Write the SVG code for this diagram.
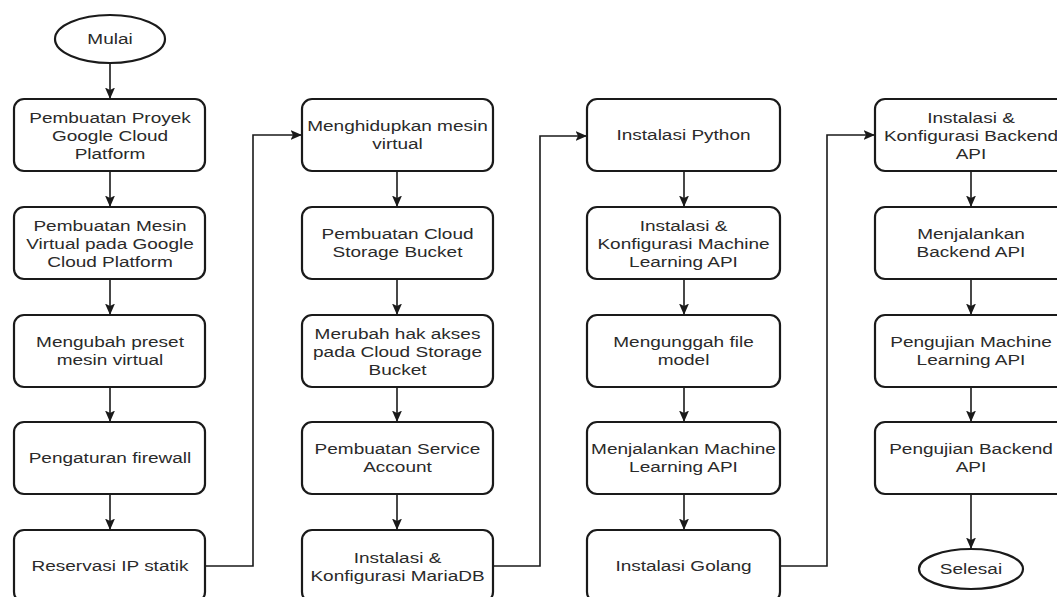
<svg xmlns="http://www.w3.org/2000/svg" width="1057" height="597" viewBox="0 0 1057 597">
<defs>
<marker id="ah" markerUnits="userSpaceOnUse" markerWidth="12" markerHeight="11" viewBox="0 0 12 11" refX="11.5" refY="5.5" orient="auto">
<path d="M0,0.5 L11.5,5.5 L0,10.5 L2.5,5.5 z" fill="#1a1a1a"/>
</marker>
</defs>
<style>
.box{fill:#fff;stroke:#1a1a1a;stroke-width:2.2}
.term{fill:#fff;stroke:#1a1a1a;stroke-width:2.2}
.t{font-family:"Liberation Sans",Arial,sans-serif;font-size:15px;fill:#2a2a2a;text-anchor:middle}
.c{fill:none;stroke:#1a1a1a;stroke-width:1.6;marker-end:url(#ah)}
</style>
<rect width="1057" height="597" fill="#fff"/>

<g id="connectors">
<path class="c" d="M110,63 V99"/>
<path class="c" d="M110,171 V207"/>
<path class="c" d="M110,279 V315"/>
<path class="c" d="M110,387 V422"/>
<path class="c" d="M110,494 V530"/>
<path class="c" d="M205,566 H253 V135 H302"/>
<path class="c" d="M397,171 V207"/>
<path class="c" d="M397,279 V315"/>
<path class="c" d="M397,387 V422"/>
<path class="c" d="M397,494 V530"/>
<path class="c" d="M493,566 H540 V136 H587"/>
<path class="c" d="M684,171 V207"/>
<path class="c" d="M684,279 V315"/>
<path class="c" d="M684,387 V422"/>
<path class="c" d="M684,494 V530"/>
<path class="c" d="M780,566 H827 V135 H875"/>
<path class="c" d="M971,171 V207"/>
<path class="c" d="M971,279 V315"/>
<path class="c" d="M971,387 V422"/>
<path class="c" d="M971,494 V549"/>
</g>

<g id="mulai">
<ellipse class="term" cx="110" cy="39" rx="55" ry="24"/>
<g transform="matrix(1.267 0 0 1 110 0)"><text class="t" x="0" y="44">Mulai</text></g>
</g>

<g id="n1">
<rect class="box" x="14" y="99" width="191" height="72" rx="10"/>
<g transform="matrix(1.267 0 0 1 110 0)"><text class="t" x="0" y="123">Pembuatan Proyek</text><text class="t" x="0" y="141">Google Cloud</text><text class="t" x="0" y="159">Platform</text></g>
</g>
<g id="n2">
<rect class="box" x="14" y="207" width="191" height="72" rx="10"/>
<g transform="matrix(1.267 0 0 1 110 0)"><text class="t" x="0" y="231">Pembuatan Mesin</text><text class="t" x="0" y="249">Virtual pada Google</text><text class="t" x="0" y="267">Cloud Platform</text></g>
</g>
<g id="n3">
<rect class="box" x="14" y="315" width="191" height="72" rx="10"/>
<g transform="matrix(1.267 0 0 1 110 0)"><text class="t" x="0" y="347">Mengubah preset</text><text class="t" x="0" y="365">mesin virtual</text></g>
</g>
<g id="n4">
<rect class="box" x="14" y="422" width="191" height="72" rx="10"/>
<g transform="matrix(1.267 0 0 1 110 0)"><text class="t" x="0" y="463">Pengaturan firewall</text></g>
</g>
<g id="n5">
<rect class="box" x="14" y="530" width="191" height="72" rx="10"/>
<g transform="matrix(1.267 0 0 1 110 0)"><text class="t" x="0" y="571">Reservasi IP statik</text></g>
</g>

<g id="n6">
<rect class="box" x="302" y="99" width="191" height="72" rx="10"/>
<g transform="matrix(1.267 0 0 1 397.5 0)"><text class="t" x="0" y="131">Menghidupkan mesin</text><text class="t" x="0" y="149">virtual</text></g>
</g>
<g id="n7">
<rect class="box" x="302" y="207" width="191" height="72" rx="10"/>
<g transform="matrix(1.267 0 0 1 397.5 0)"><text class="t" x="0" y="239">Pembuatan Cloud</text><text class="t" x="0" y="257">Storage Bucket</text></g>
</g>
<g id="n8">
<rect class="box" x="302" y="315" width="191" height="72" rx="10"/>
<g transform="matrix(1.267 0 0 1 397.5 0)"><text class="t" x="0" y="339">Merubah hak akses</text><text class="t" x="0" y="357">pada Cloud Storage</text><text class="t" x="0" y="375">Bucket</text></g>
</g>
<g id="n9">
<rect class="box" x="302" y="422" width="191" height="72" rx="10"/>
<g transform="matrix(1.267 0 0 1 397.5 0)"><text class="t" x="0" y="454">Pembuatan Service</text><text class="t" x="0" y="472">Account</text></g>
</g>
<g id="n10">
<rect class="box" x="302" y="530" width="191" height="72" rx="10"/>
<g transform="matrix(1.267 0 0 1 397.5 0)"><text class="t" x="0" y="563">Instalasi &amp;</text><text class="t" x="0" y="581">Konfigurasi MariaDB</text></g>
</g>

<g id="n11">
<rect class="box" x="587" y="99" width="193" height="72" rx="10"/>
<g transform="matrix(1.267 0 0 1 683.5 0)"><text class="t" x="0" y="140">Instalasi Python</text></g>
</g>
<g id="n12">
<rect class="box" x="587" y="207" width="193" height="72" rx="10"/>
<g transform="matrix(1.267 0 0 1 683.5 0)"><text class="t" x="0" y="231">Instalasi &amp;</text><text class="t" x="0" y="249">Konfigurasi Machine</text><text class="t" x="0" y="267">Learning API</text></g>
</g>
<g id="n13">
<rect class="box" x="587" y="315" width="193" height="72" rx="10"/>
<g transform="matrix(1.267 0 0 1 683.5 0)"><text class="t" x="0" y="347">Mengunggah file</text><text class="t" x="0" y="365">model</text></g>
</g>
<g id="n14">
<rect class="box" x="587" y="422" width="193" height="72" rx="10"/>
<g transform="matrix(1.267 0 0 1 683.5 0)"><text class="t" x="0" y="454">Menjalankan Machine</text><text class="t" x="0" y="472">Learning API</text></g>
</g>
<g id="n15">
<rect class="box" x="587" y="530" width="193" height="72" rx="10"/>
<g transform="matrix(1.267 0 0 1 683.5 0)"><text class="t" x="0" y="571">Instalasi Golang</text></g>
</g>

<g id="n16">
<rect class="box" x="875" y="99" width="192" height="72" rx="10"/>
<g transform="matrix(1.267 0 0 1 971 0)"><text class="t" x="0" y="123">Instalasi &amp;</text><text class="t" x="0" y="141">Konfigurasi Backend</text><text class="t" x="0" y="159">API</text></g>
</g>
<g id="n17">
<rect class="box" x="875" y="207" width="192" height="72" rx="10"/>
<g transform="matrix(1.267 0 0 1 971 0)"><text class="t" x="0" y="239">Menjalankan</text><text class="t" x="0" y="257">Backend API</text></g>
</g>
<g id="n18">
<rect class="box" x="875" y="315" width="192" height="72" rx="10"/>
<g transform="matrix(1.267 0 0 1 971 0)"><text class="t" x="0" y="347">Pengujian Machine</text><text class="t" x="0" y="365">Learning API</text></g>
</g>
<g id="n19">
<rect class="box" x="875" y="422" width="192" height="72" rx="10"/>
<g transform="matrix(1.267 0 0 1 971 0)"><text class="t" x="0" y="454">Pengujian Backend</text><text class="t" x="0" y="472">API</text></g>
</g>
<g id="selesai">
<ellipse class="term" cx="971" cy="569" rx="52" ry="20"/>
<g transform="matrix(1.267 0 0 1 971 0)"><text class="t" x="0" y="574">Selesai</text></g>
</g>
</svg>
